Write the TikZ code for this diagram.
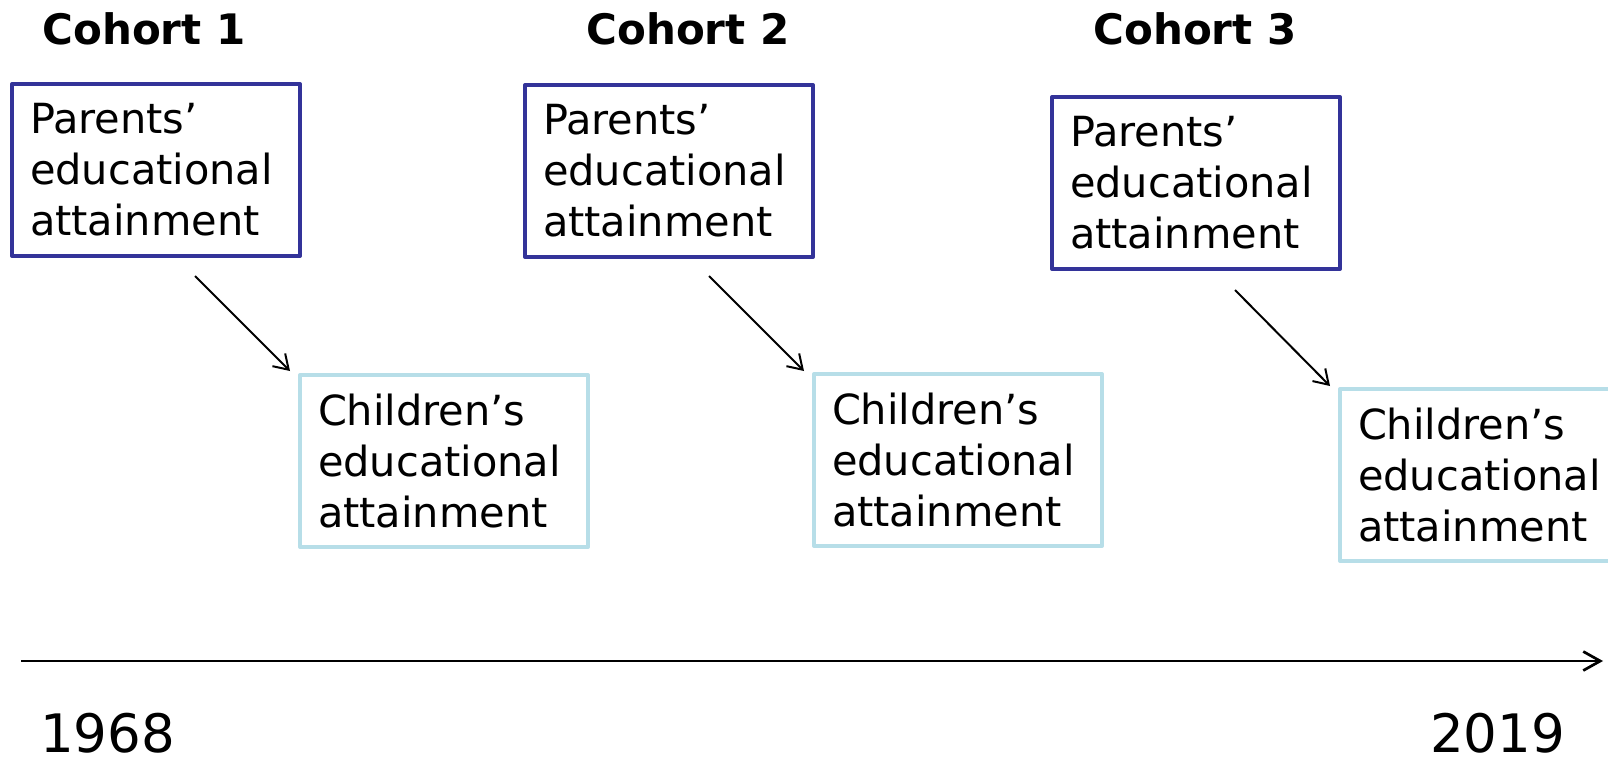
\documentclass[tikz,border=0pt]{standalone}
\usepackage{fontspec}
\setmainfont{DejaVu Sans}
\usetikzlibrary{arrows.meta}
\definecolor{parentblue}{HTML}{333399}
\definecolor{childcyan}{HTML}{B7DEE8}
\begin{document}
\begin{tikzpicture}[x=1pt,y=-1pt,
  box/.style={draw, line width=4pt, line join=round, anchor=north west,
    minimum width=288pt, minimum height=172pt, text width=252pt,
    inner xsep=18pt, inner ysep=0pt, align=left,
    font=\fontsize{41.5}{51}\selectfont},
  parent/.style={box, draw=parentblue},
  child/.style={box, draw=childcyan},
  cohort/.style={font=\fontsize{42}{48}\selectfont\bfseries, anchor=base, inner sep=0pt},
  year/.style={font=\fontsize{53}{60}\selectfont, anchor=base west, inner sep=0pt, text depth=0pt},
  link/.style={-{Straight Barb[length=14pt,width=18pt,line width=2pt]}, line width=2pt},
  timeline/.style={-{Straight Barb[length=17pt,width=19pt,line width=2.7pt]}, line width=2.7pt},
]
\useasboundingbox (0,0) rectangle (1608,761);
\clip (0,0) rectangle (1608,761);

\node[cohort] (h1) at (144,44) {Cohort 1};
\node[cohort] (h2) at (688,44) {Cohort 2};
\node[cohort] (h3) at (1195,44) {Cohort 3};

\node[parent] (p1) at (10,82) {Parents’\\educational\\attainment};
\node[parent] (p2) at (523,83) {Parents’\\educational\\attainment};
\node[parent] (p3) at (1050,95) {Parents’\\educational\\attainment};

\node[child] (c1) at (298,373) {Children’s\\educational\\attainment};
\node[child] (c2) at (812,372) {Children’s\\educational\\attainment};
\node[child] (c3) at (1338,387) {Children’s\\educational\\attainment};

\draw[link] ([xshift=39pt,yshift=-18pt]p1.south) -- ([xshift=-8pt,yshift=2pt]c1.north west);
\draw[link] ([xshift=40pt,yshift=-17pt]p2.south) -- ([xshift=-8pt,yshift=1pt]c2.north west);
\draw[link] ([xshift=39pt,yshift=-19pt]p3.south) -- ([xshift=-8pt,yshift=1pt]c3.north west);

\coordinate (t0) at (21,661);
\coordinate (t1) at (1603,661);
\draw[timeline] (t0) -- (t1);

\node[year] (y0) at (40,752) {1968};
\node[year] (y1) at (1430,752) {2019};
\end{tikzpicture}
\end{document}
